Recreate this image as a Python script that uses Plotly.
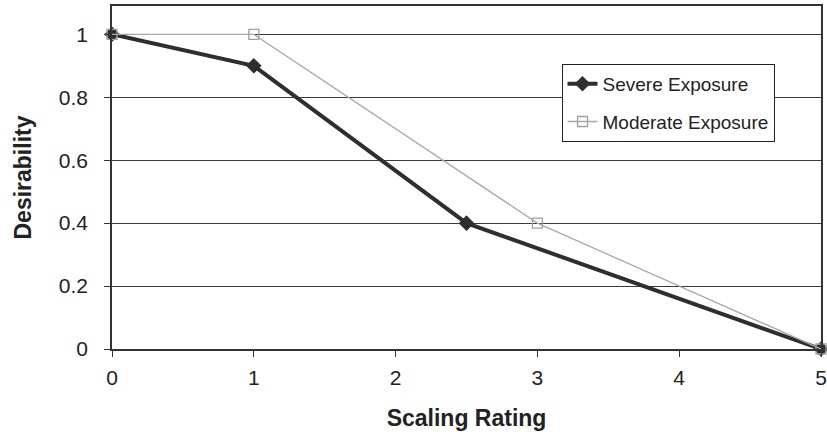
import plotly.graph_objects as go

severe_x = [0, 1, 2.5, 5]
severe_y = [1, 0.9, 0.4, 0]
moderate_x = [0, 1, 3, 5]
moderate_y = [1, 1, 0.4, 0]
x_ticks = [0, 1, 2, 3, 4, 5]
y_ticks = [0, 0.2, 0.4, 0.6, 0.8, 1]
y_tick_labels = ["0", "0.2", "0.4", "0.6", "0.8", "1"]

fig = go.Figure()
fig.add_trace(go.Scatter(
    x=severe_x, y=severe_y, name="Severe Exposure", mode="lines+markers",
    legendgroup="severe",
    line=dict(color="#2e2e2e", width=4),
    marker=dict(symbol="diamond", size=12, color="#2e2e2e"),
    cliponaxis=False,
))
fig.add_trace(go.Scatter(
    x=moderate_x, y=moderate_y, name="Moderate Exposure", mode="lines+markers",
    legendgroup="moderate",
    line=dict(color="#a8a8a8", width=1.3),
    marker=dict(symbol="square-open", size=10, color="#a0a0a0", line=dict(width=1.3)),
    cliponaxis=False,
))

fig.update_layout(
    width=827, height=440,
    margin=dict(l=112, r=6, t=6, b=91),
    paper_bgcolor="white", plot_bgcolor="white",
    font=dict(family="Liberation Sans, Arial, sans-serif", size=21, color="#222222"),
    showlegend=True,
    legend=dict(
        x=0.634, y=0.831, xanchor="left", yanchor="top",
        bordercolor="#222222", borderwidth=1, bgcolor="white",
        font=dict(size=19), tracegroupgap=10,
    ),
    xaxis=dict(
        range=[0, 5], tickvals=x_ticks, showgrid=False, zeroline=False,
        showline=True, linecolor="#333333", linewidth=1.5, mirror=True,
        ticks="outside", ticklen=6, tickcolor="#333333",
        ticklabelstandoff=3, automargin=False, ticklabeloverflow="allow",
        title=dict(text="<b>Scaling Rating</b>", font=dict(size=23), standoff=22),
    ),
    yaxis=dict(
        range=[0, 1.09], tickvals=y_ticks, ticktext=y_tick_labels,
        showgrid=True, gridcolor="#3a3a3a", gridwidth=1, zeroline=False,
        showline=True, linecolor="#333333", linewidth=1.5, mirror=True,
        ticks="outside", ticklen=6, tickcolor="#333333",
        ticklabelstandoff=12, automargin=False,
        title=dict(text="<b>Desirability</b>", font=dict(size=23), standoff=21),
    ),
)

fig.write_html("out.html", config={"displayModeBar": False},
               post_script="document.body.style.margin='0';")
